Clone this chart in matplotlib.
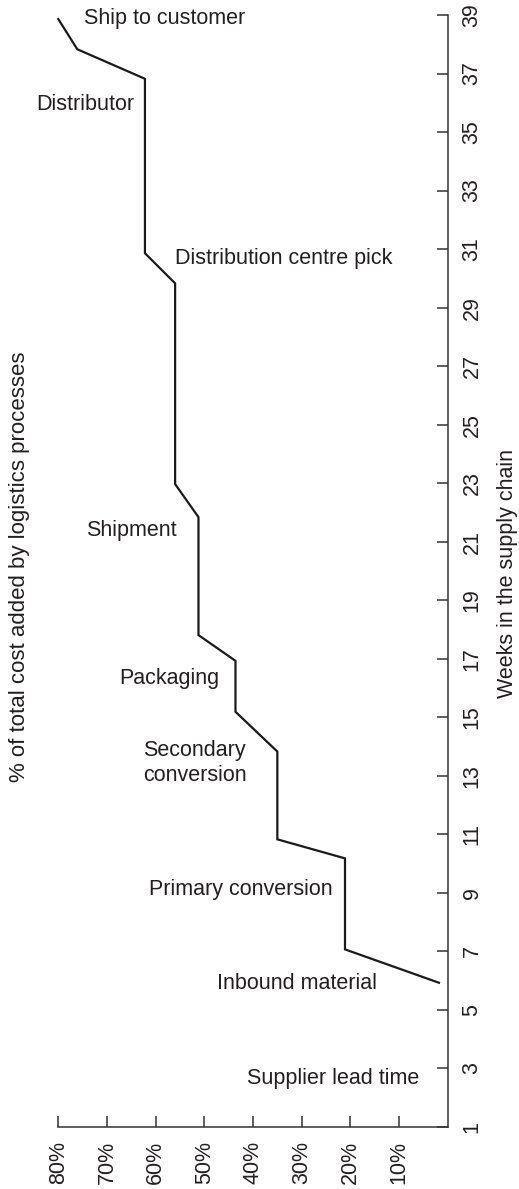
import matplotlib
matplotlib.use("Agg")
import matplotlib.pyplot as plt

plt.rcParams['font.family'] = ['Liberation Sans', 'DejaVu Sans']

# cumulative share of cost added by logistics vs week in the supply chain
weeks = [5.93, 7.07, 10.18, 10.83, 13.83, 15.19, 16.93, 17.81,
         21.84, 22.97, 29.83, 30.86, 36.82, 37.83, 38.86]
cost_pct = [1.8, 21.1, 21.1, 35.0, 35.0, 43.6, 43.6, 51.2,
            51.2, 56.0, 56.0, 62.2, 62.2, 76.1, 80.0]

week_ticks = list(range(1, 40, 2))
pct_ticks = [80, 70, 60, 50, 40, 30, 20, 10]

stages = ["Ship to customer", "Distributor", "Distribution centre pick",
          "Shipment", "Packaging", "Secondary\nconversion",
          "Primary conversion", "Inbound material", "Supplier lead time"]
# label anchors (left edge, vertical centre) in data units
stage_x = [74.7, 84.6, 56.0, 74.3, 67.5, 62.5, 61.3, 47.3, 41.2]
stage_y = [38.87, 35.95, 30.67, 21.38, 16.33, 13.45, 9.1, 5.91, 2.66]

ink = '#231f20'
fs = 15.5
fig = plt.figure(figsize=(5.19, 11.89), dpi=100)
ax = fig.add_axes([58.3/519, 1-1127/1189, (447.7-58.3)/519, (1127-15)/1189])

ax.plot(cost_pct, weeks, color='#1a1a1a', lw=1.6, clip_on=False,
        solid_joinstyle='miter')

for name, x, y in zip(stages, stage_x, stage_y):
    ax.text(x, y, name, ha='left', va='center', fontsize=fs, color=ink,
            linespacing=1.25, clip_on=False)

ax.set_xlim(80, 0)
ax.set_ylim(1, 39)
ax.set_xticks(pct_ticks)
ax.set_xticklabels([f"{p}%" for p in pct_ticks], rotation=90)
ax.set_yticks(week_ticks)
ax.set_yticklabels([str(w) for w in week_ticks], rotation=90, va='center')
ax.yaxis.tick_right()
ax.spines['top'].set_visible(False)
ax.spines['left'].set_visible(False)
for s in ['bottom', 'right']:
    ax.spines[s].set_color('#333333')
    ax.spines[s].set_linewidth(1.1)
ax.tick_params(axis='both', direction='in', length=7.7, width=1.1,
               color='#333333', labelsize=fs, labelcolor=ink, pad=10)

fig.text(508/519, 1-573.5/1189, "Weeks in the supply chain", rotation=90,
         ha='center', va='center', fontsize=fs, color=ink)
fig.text(20/519, 1-567/1189, "% of total cost added by logistics processes",
         rotation=90, ha='center', va='center', fontsize=16, color=ink)

fig.savefig("out.png", dpi=100)
